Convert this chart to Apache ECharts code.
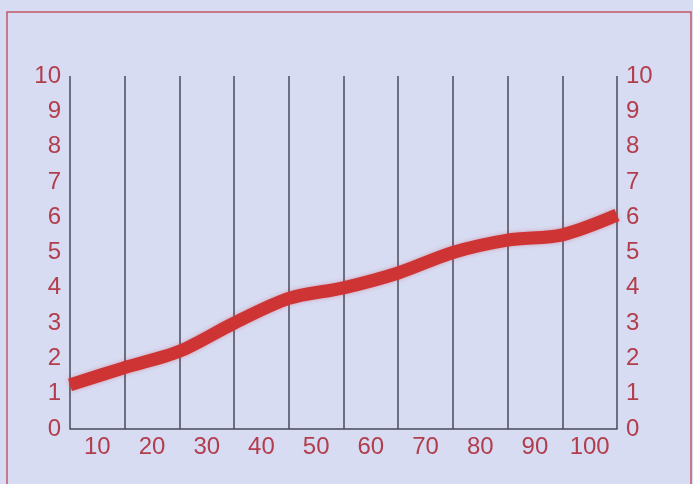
<!DOCTYPE html>
<html>
<head>
<meta charset="utf-8">
<script src="https://cdn.jsdelivr.net/npm/echarts@6/dist/echarts.min.js"></script>
<style>
html,body{margin:0;padding:0;background:#d7dcf2;}
#c{width:693px;height:484px;}
</style>
</head>
<body>
<div id="c"></div>
<script>
const categories = ['10','20','30','40','50','60','70','80','90','100'];
const xPositions = [0,10,20,30,40,50,60,70,80,90,100];
const values = [1.25,1.74,2.2,3.0,3.7,4.0,4.42,5.0,5.35,5.5,6.06];
const yTicks = [0,1,2,3,4,5,6,7,8,9,10];

const textRed = '#b23d4c';
const chart = echarts.init(document.getElementById('c'), null, {renderer:'canvas'});
const yLabel = {color:textRed, fontSize:24, fontFamily:'Liberation Sans, Arial, sans-serif', margin:9};
chart.setOption({
  backgroundColor:'#d7dcf2',
  animation:false,
  graphic:[{type:'rect', shape:{x:7,y:12,width:684,height:500}, style:{fill:'none', stroke:'#c25868', lineWidth:1.5}, silent:true}],
  grid:{left:70,right:76,top:76,bottom:55},
  xAxis:[
    {type:'value', min:0, max:100, interval:10, position:'bottom',
     axisLine:{show:true, lineStyle:{color:'#4a4a5a', width:1.5}},
     axisTick:{show:false}, axisLabel:{show:false},
     splitLine:{show:true, lineStyle:{color:'#4a4a5a', width:1.5}}},
    {type:'category', data:categories, boundaryGap:true, position:'bottom',
     axisLine:{show:false}, axisTick:{show:false}, splitLine:{show:false},
     axisLabel:{color:textRed, fontSize:24, fontFamily:'Liberation Sans, Arial, sans-serif', margin:6}}
  ],
  yAxis:[
    {type:'value', min:0, max:10, interval:1, position:'left',
     axisLine:{show:false}, axisTick:{show:false}, splitLine:{show:false}, axisLabel:yLabel},
    {type:'value', min:0, max:10, interval:1, position:'right',
     axisLine:{show:false}, axisTick:{show:false}, splitLine:{show:false}, axisLabel:yLabel}
  ],
  series:[{
    type:'line', xAxisIndex:0, yAxisIndex:0,
    data: xPositions.map((x,i)=>[x, values[i]]),
    smooth:0.3, showSymbol:false, clip:false,
    lineStyle:{color:'#cf3434', width:13, cap:'butt', shadowColor:'rgba(200,40,60,0.35)', shadowBlur:4}
  }]
});
</script>
</body>
</html>
